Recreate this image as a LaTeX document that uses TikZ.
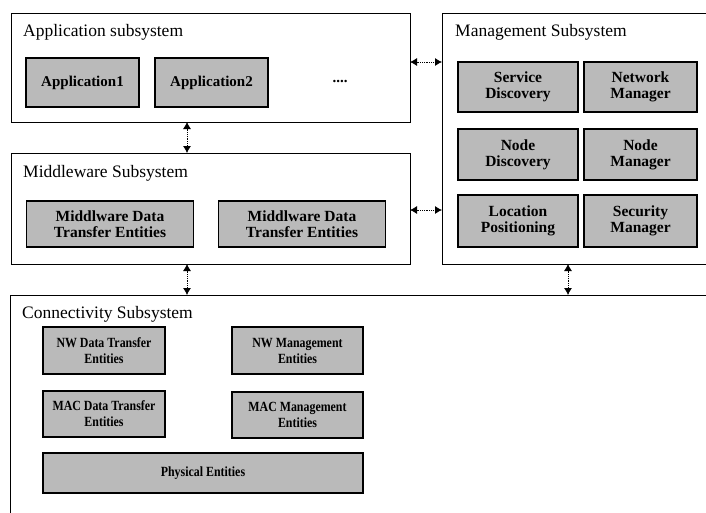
\documentclass[tikz,border=0pt]{standalone}
\usepackage{fontspec}
\setmainfont{Liberation Serif}
\newfontfamily\narrowserif[FakeStretch=0.85]{Liberation Serif}
\usetikzlibrary{arrows.meta}
\begin{document}
\begin{tikzpicture}[x=1pt,y=-1pt,
  subsys/.style={draw=black,line width=0.9pt},
  entity/.style={draw=black,line width=1.4pt,fill=black!27,
    align=center,font=\fontsize{15.5}{16}\selectfont\bfseries,inner sep=0pt},
  netentity/.style={entity,font=\narrowserif\fontsize{14}{16}\selectfont\bfseries},
  title/.style={anchor=base west,font=\fontsize{17.5}{18}\selectfont,inner sep=0pt},
  link/.style={line width=0.8pt,densely dotted,
    {Latex[length=7pt,width=8pt]}-{Latex[length=7pt,width=8pt]}}]
\useasboundingbox (0,0) rectangle (706,512);
\clip (0,0) rectangle (706,512);
\fill[white] (0,0) rectangle (706,512);

% subsystem frames
\draw[subsys] (11,13) rectangle (410,122);
\coordinate (appS) at (187,122);
\coordinate (appE) at (410,62);
\draw[subsys] (11,153) rectangle (410,264);
\coordinate (midN) at (187,153);
\coordinate (midS) at (187,264);
\coordinate (midE) at (410,210);
\draw[subsys] (442,13) rectangle (720,264);
\coordinate (mgW1) at (442,62);
\coordinate (mgW2) at (442,210);
\coordinate (mgS) at (568,264);
\draw[subsys] (10,295) rectangle (720,530);
\coordinate (coN1) at (187,295);
\coordinate (coN2) at (568,295);

% titles
\node[title] (tApp) at (23,36) {Application subsystem};
\node[title] (tMid) at (23,177) {Middleware Subsystem};
\node[title] (tMgm) at (455,36) {Management Subsystem};
\node[title] (tCon) at (22,318) {Connectivity Subsystem};

% application entities
\node[entity,font=\fontsize{15}{16}\selectfont\bfseries,minimum width=113pt,minimum height=49pt] (app1) at (82.5,82.5) {Application1};
\node[entity,font=\fontsize{15}{16}\selectfont\bfseries,minimum width=113pt,minimum height=49pt] (app2) at (211.5,82.5) {Application2};
\node[font=\fontsize{15}{16}\selectfont\bfseries] (dots) at (340,81) {....};

% middleware entities
\node[entity,minimum width=167pt,minimum height=46pt] (mw1) at (110,224) {Middlware Data\\Transfer Entities};
\node[entity,minimum width=167pt,minimum height=46pt] (mw2) at (302,224) {Middlware Data\\Transfer Entities};

% management entities
\node[entity,minimum width=120pt,minimum height=50pt] (sd) at (518,87) {Service\\Discovery};
\node[entity,minimum width=113pt,minimum height=50pt] (nm) at (640.5,87) {Network\\Manager};
\node[entity,minimum width=120pt,minimum height=51pt] (nd) at (518,154.5) {Node\\Discovery};
\node[entity,minimum width=113pt,minimum height=51pt] (ndm) at (640.5,154.5) {Node\\Manager};
\node[entity,minimum width=120pt,minimum height=52pt] (lp) at (518,221) {Location\\Positioning};
\node[entity,minimum width=113pt,minimum height=52pt] (sm) at (640.5,221) {Security\\Manager};

% connectivity entities
\node[netentity,minimum width=122pt,minimum height=47pt] (nwd) at (104,350.5) {NW Data Transfer\\Entities};
\node[netentity,minimum width=131pt,minimum height=47pt] (nwm) at (297.5,350.5) {NW Management\\Entities};
\node[netentity,minimum width=122pt,minimum height=46pt] (macd) at (104,414) {MAC Data Transfer\\Entities};
\node[netentity,minimum width=131pt,minimum height=46pt] (macm) at (297.5,415) {MAC Management\\Entities};
\node[netentity,minimum width=320pt,minimum height=40pt] (phy) at (203,473) {Physical Entities};

% links between subsystems
\draw[link] (appS) -- (midN);
\draw[link] (midS) -- (coN1);
\draw[link] (appE) -- (mgW1);
\draw[link] (midE) -- (mgW2);
\draw[link] (mgS) -- (coN2);
\end{tikzpicture}
\end{document}
